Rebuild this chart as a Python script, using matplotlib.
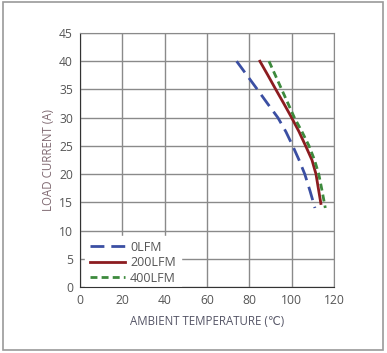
import matplotlib
matplotlib.use("Agg")
import matplotlib.pyplot as plt
from matplotlib.patches import Rectangle

# derating curves
temp_0lfm = [74, 78.9, 83.8, 88.6, 93.5, 97.3, 100.5, 103.5, 106.2, 108.7, 111]
curr_0lfm = [40, 37.5, 35, 32.5, 30, 27.5, 25, 22.5, 20, 17, 14]
temp_200lfm = [85, 88.8, 92.5, 96.3, 100, 103.5, 106.6, 109.6, 111.5, 112.6, 113.8]
curr_200lfm = [40, 37.5, 35, 32.5, 30, 27.5, 25, 22.5, 20, 17.5, 14.8]
temp_400lfm = [89.3, 92.3, 95.3, 98.3, 101.3, 104.9, 108.2, 110.8, 112.8, 114.4, 115.9]
curr_400lfm = [40, 37.5, 35, 32.5, 30, 27.5, 25, 22.5, 20, 17, 14]

x_ticks = [0, 20, 40, 60, 80, 100, 120]
y_ticks = [0, 5, 10, 15, 20, 25, 30, 35, 40, 45]


def main():
    plt.rcParams['font.family'] = ['Open Sans', 'DejaVu Sans']
    fig = plt.figure(figsize=(3.87, 3.53), dpi=100)
    fig.patches.append(Rectangle((0.009, 0.008), 0.981, 0.985, transform=fig.transFigure,
                                 fill=False, edgecolor='#9a9a9a', linewidth=1.2))
    ax = fig.add_axes([0.2067, 0.187, 0.6563, 0.7195])

    ax.plot(temp_0lfm, curr_0lfm, color='#3b4fa3', linewidth=2, dashes=(5, 2.5), label='0LFM')
    ax.plot(temp_200lfm, curr_200lfm, color='#8c1c20', linewidth=2, label='200LFM')
    ax.plot(temp_400lfm, curr_400lfm, color='#3d8a3d', linewidth=2, dashes=(2.5, 1.5), label='400LFM')

    ax.set_xlim(0, 120)
    ax.set_ylim(0, 45)
    ax.set_xticks(x_ticks)
    ax.set_yticks(y_ticks)
    ax.grid(True, color='#8a8a8a', linewidth=1)
    ax.set_axisbelow(True)
    ax.tick_params(length=0, labelsize=8.7, labelcolor='#555555', pad=5)

    for side in ['top', 'right']:
        ax.spines[side].set_color('#8a8a8a')
    for side in ['left', 'bottom']:
        ax.spines[side].set_color('#333333')

    ax.set_xlabel('AMBIENT TEMPERATURE (℃)', fontsize=8.3, color='#555566', labelpad=6)
    ax.set_ylabel('LOAD CURRENT (A)', fontsize=8.3, color='#806a72', labelpad=3)

    leg = ax.legend(loc='lower left', bbox_to_anchor=(0.02, -0.011), fontsize=9,
                    frameon=True, fancybox=False, handlelength=2.8, handletextpad=0.4,
                    labelspacing=0.2, borderaxespad=0, borderpad=0.4)
    leg.get_frame().set_edgecolor('white')
    leg.get_frame().set_facecolor('white')
    leg.get_frame().set_alpha(1)
    leg.set_zorder(2.2)
    for t in leg.get_texts():
        t.set_color('#555555')

    fig.savefig('out.png', dpi=100)


if __name__ == '__main__':
    main()
